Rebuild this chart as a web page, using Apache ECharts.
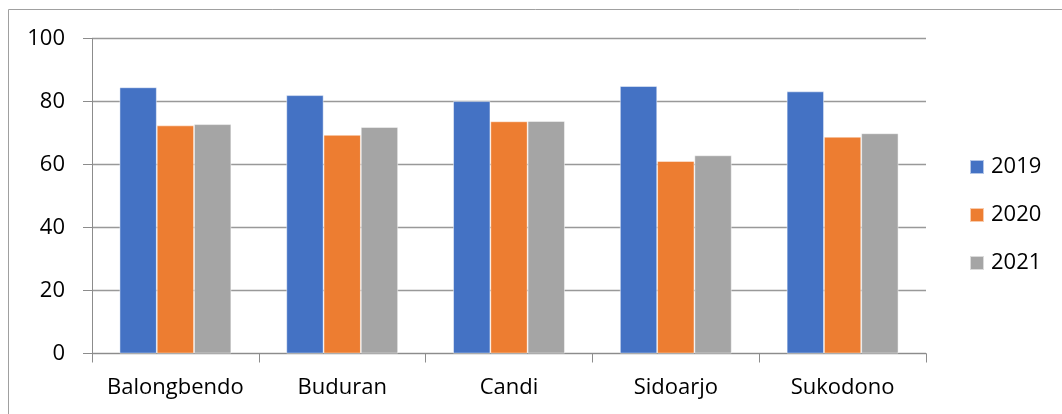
<!DOCTYPE html>
<html>
<head>
<meta charset="utf-8">
<style>
html,body{margin:0;padding:0;background:#fff;}
#chart{width:1062px;height:414px;}
</style>
<script src="https://cdn.jsdelivr.net/npm/echarts@6/dist/echarts.min.js"></script>
</head>
<body>
<div id="chart"></div>
<script>
const categories = ['Balongbendo', 'Buduran', 'Candi', 'Sidoarjo', 'Sukodono'];
const seriesNames = ['2019', '2020', '2021'];
const values2019 = [84.5, 82.0, 80.1, 84.9, 83.2];
const values2020 = [72.4, 69.4, 73.7, 61.1, 68.8];
const values2021 = [72.8, 71.9, 73.8, 62.9, 69.9];
const colors = ['#4472C4', '#ED7D31', '#A5A5A5'];
const yTicks = { min: 0, max: 100, interval: 20 };

const font = 'Open Sans';
const chart = echarts.init(document.getElementById('chart'), null, { renderer: 'canvas' });
const dataSets = [values2019, values2020, values2021];

chart.setOption({
  animation: false,
  textStyle: { fontFamily: font },
  graphic: [{
    type: 'rect',
    shape: { x: 8.5, y: 9.5, width: 1200, height: 600 },
    style: { fill: 'none', stroke: '#A0A0A0', lineWidth: 1 },
    silent: true
  }],
  grid: { left: 92, right: 136, top: 38.5, bottom: 60.5, containLabel: false },
  legend: {
    orient: 'vertical',
    left: 964,
    top: 151,
    itemWidth: 14,
    itemHeight: 14,
    itemGap: 26,
    icon: 'rect',
    data: seriesNames,
    textStyle: { fontSize: 22, color: '#000', fontFamily: font, padding: [0, 0, 0, 2] }
  },
  xAxis: {
    type: 'category',
    data: categories,
    axisLine: { show: true, lineStyle: { color: '#8C8C8C', width: 1 } },
    axisTick: { show: true, interval: 0, length: 9, lineStyle: { color: '#8C8C8C' } },
    axisLabel: { interval: 0, hideOverlap: false, fontSize: 22, color: '#000', margin: 23, fontFamily: font },
    splitLine: { show: false }
  },
  yAxis: {
    type: 'value',
    min: yTicks.min,
    max: yTicks.max,
    interval: yTicks.interval,
    axisLine: { show: true, lineStyle: { color: '#8C8C8C', width: 1 } },
    axisTick: { show: true, inside: false, length: 9, lineStyle: { color: '#8C8C8C' } },
    axisLabel: { fontSize: 22, color: '#000', margin: 27, fontFamily: font },
    splitLine: { show: true, lineStyle: { color: '#999999', width: 1.3 } }
  },
  series: seriesNames.map((name, i) => ({
    name: name,
    type: 'bar',
    data: dataSets[i],
    barGap: '0%',
    barCategoryGap: '33%',
    itemStyle: { color: colors[i], borderColor: 'rgba(255,255,255,0.6)', borderWidth: 0.8 }
  }))
});
</script>
</body>
</html>
